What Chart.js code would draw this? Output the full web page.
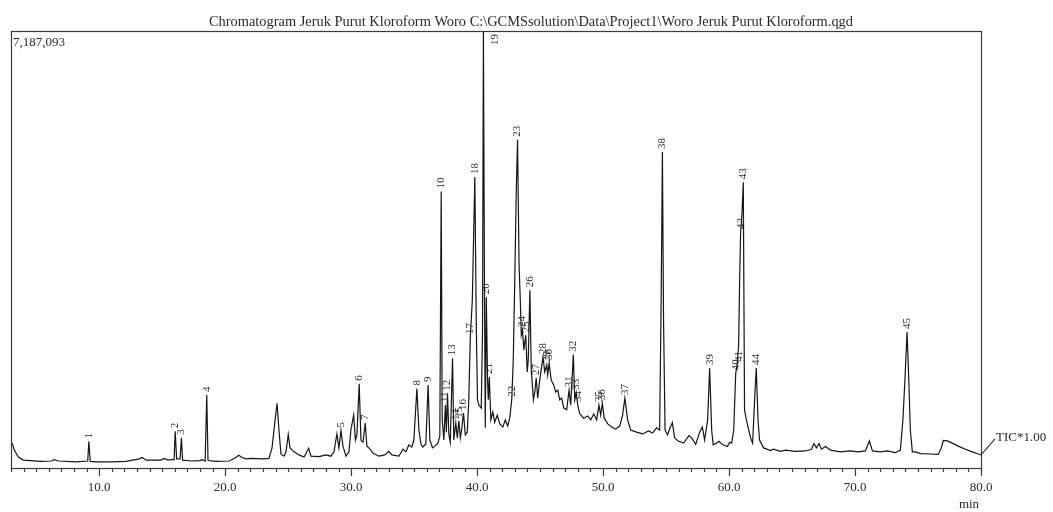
<!DOCTYPE html>
<html>
<head>
<meta charset="utf-8">
<script src="https://cdn.jsdelivr.net/npm/chart.js@4"></script>
<style>
  html, body { margin: 0; padding: 0; background: #fff; }
  canvas { display: block; }
</style>
</head>
<body>
<canvas id="tic" width="1053" height="512"></canvas>
<script>
const chartTitle = 'Chromatogram Jeruk Purut Kloroform Woro C:\\GCMSsolution\\Data\\Project1\\Woro Jeruk Purut Kloroform.qgd';
const fullScale = 7187093;

// retention time (min) / intensity (% of full scale)
const retentionTime = [
  3.10, 3.26, 3.58, 3.97, 5.40, 6.19, 6.43, 6.75, 8.18, 9.09, 9.18, 9.29, 9.76, 10.95, 12.14, 13.17, 13.41, 13.73,
  14.92, 15.15, 15.47, 15.79, 15.95, 16.03, 16.15, 16.42, 16.53, 16.62, 17.30, 18.01, 18.17, 18.41, 18.54, 18.64,
  19.28, 20.31, 20.79, 21.08, 21.34, 21.66, 22.05, 23.01, 23.48, 23.72, 23.92, 24.12, 24.27, 24.43, 24.67, 24.83,
  25.01, 25.15, 25.46, 25.86, 26.26, 26.63, 26.81, 27.45, 28.00, 28.40, 28.64, 28.87, 29.03, 29.19, 29.35, 29.59,
  29.83, 29.98, 30.20, 30.34, 30.46, 30.64, 30.78, 30.94, 31.12, 31.25, 31.41, 31.73, 32.20, 32.68, 32.99, 33.23,
  33.79, 34.11, 34.35, 34.58, 34.82, 34.98, 35.22, 35.38, 35.54, 35.69, 35.93, 36.11, 36.25, 36.46, 36.65, 36.88,
  37.04, 37.15, 37.23, 37.36, 37.48, 37.56, 37.65, 37.76, 37.87, 38.05, 38.15, 38.31, 38.43, 38.55, 38.67, 38.79,
  38.92, 39.06, 39.22, 39.34, 39.46, 39.62, 39.82, 39.94, 40.03, 40.14, 40.33, 40.43, 40.50, 40.59, 40.65, 40.73,
  40.83, 40.89, 40.97, 41.09, 41.25, 41.40, 41.60, 41.80, 42.04, 42.24, 42.43, 42.59, 42.75, 42.87, 42.99, 43.11,
  43.21, 43.33, 43.43, 43.51, 43.60, 43.71, 43.86, 43.98, 44.06, 44.19, 44.30, 44.47, 44.58, 44.69, 44.81, 44.97,
  45.23, 45.37, 45.53, 45.60, 45.72, 45.88, 46.08, 46.24, 46.40, 46.56, 46.72, 46.88, 47.11, 47.30, 47.43, 47.64,
  47.75, 47.87, 47.99, 48.15, 48.46, 48.78, 49.02, 49.26, 49.49, 49.67, 49.81, 49.94, 50.09, 50.37, 50.68, 51.00,
  51.32, 51.55, 51.73, 51.95, 52.19, 52.66, 53.14, 53.61, 53.93, 54.25, 54.49, 54.61, 54.71, 54.80, 54.92, 55.12,
  55.32, 55.50, 55.68, 56.00, 56.39, 56.82, 57.03, 57.35, 57.67, 57.88, 58.06, 58.30, 58.46, 58.62, 58.74, 59.02,
  59.20, 59.50, 59.87, 60.05, 60.21, 60.37, 60.53, 60.64, 60.76, 60.84, 60.92, 61.02, 61.13, 61.23, 61.35, 61.47,
  61.71, 61.87, 62.03, 62.16, 62.30, 62.42, 62.74, 63.30, 63.53, 64.09, 64.48, 65.27, 66.07, 66.54, 66.74, 66.94,
  67.14, 67.34, 67.65, 68.05, 68.84, 69.64, 70.27, 70.82, 71.14, 71.38, 72.01, 72.57, 73.20, 73.60, 73.80, 73.96,
  74.13, 74.27, 74.39, 74.55, 74.79, 75.19, 75.98, 76.61, 76.85, 77.01, 77.33, 77.72, 78.20, 78.76, 79.31, 79.79,
  80.00
];
const intensity = [
  5.7, 4.1, 2.5, 1.8, 1.5, 1.6, 1.9, 1.6, 1.4, 1.6, 6.1, 1.5, 1.4, 1.4, 1.5, 2.1, 2.4, 1.8,
  1.8, 2.2, 1.8, 1.9, 1.9, 8.4, 2.1, 2.1, 6.9, 1.8, 1.6, 1.7, 1.9, 1.6, 16.7, 1.7,
  1.5, 1.6, 2.3, 2.9, 2.4, 2.1, 2.2, 2.1, 2.2, 4.6, 9.8, 14.8, 8.7, 3.2, 2.7, 3.7,
  7.7, 4.6, 3.7, 3.0, 2.5, 4.5, 2.7, 2.6, 3.0, 2.7, 3.7, 7.8, 4.6, 8.6, 5.0, 2.7,
  3.7, 8.7, 12.1, 6.4, 7.6, 19.3, 6.4, 5.9, 10.3, 5.0, 4.6, 3.4, 2.7, 3.0, 3.8, 3.0,
  2.7, 4.3, 3.7, 5.3, 4.8, 6.4, 18.2, 8.7, 5.5, 4.8, 5.5, 19.0, 6.4, 4.6, 5.0, 5.7,
  7.3, 63.3, 11.0, 6.4, 14.4, 8.2, 17.0, 7.6, 5.9, 25.1, 6.4, 10.3, 6.9, 10.8, 6.9, 9.2,
  12.6, 7.6, 8.2, 15.6, 30.0, 38.4, 66.6, 31.6, 15.6, 14.4, 13.7, 31.6, 100, 38.4, 9.2, 39.1,
  20.1, 15.6, 20.8, 11.0, 12.8, 10.5, 12.1, 10.1, 9.4, 11.0, 9.6, 11.4, 15.6, 24.7, 43.0, 63.6,
  75.1, 46.5, 38.4, 30.4, 31.6, 27.0, 30.4, 22.0, 24.7, 40.7, 22.4, 15.6, 17.4, 20.6, 16.0, 20.1,
  25.4, 22.0, 23.6, 21.3, 24.0, 20.1, 19.0, 17.4, 17.8, 15.6, 16.0, 13.7, 13.3, 17.8, 14.4, 25.9,
  15.6, 17.2, 14.4, 12.4, 11.4, 11.9, 11.0, 12.4, 11.0, 14.4, 12.1, 14.8, 11.4, 10.1, 9.4, 8.9,
  9.6, 12.1, 16.0, 11.0, 8.7, 8.2, 7.8, 8.5, 8.0, 9.2, 8.7, 38.4, 72.3, 33.9, 8.7, 7.6,
  9.2, 10.4, 6.9, 6.1, 5.7, 7.4, 6.9, 5.4, 8.2, 9.4, 6.4, 11.0, 22.9, 8.7, 5.3, 5.7,
  6.1, 5.3, 4.9, 5.9, 5.7, 8.7, 21.7, 23.6, 28.1, 43.0, 54.0, 57.9, 65.4, 13.3, 11.4, 9.8,
  6.9, 5.7, 15.6, 22.9, 11.0, 6.4, 4.6, 4.0, 4.3, 3.8, 4.1, 3.8, 3.9, 4.3, 5.6, 4.6,
  5.6, 4.3, 4.9, 4.1, 3.7, 3.9, 3.7, 3.9, 6.2, 3.9, 3.7, 3.9, 3.5, 4.1, 11.0, 20.1,
  31.1, 20.1, 8.7, 3.7, 3.7, 3.3, 3.2, 3.1, 4.6, 6.3, 6.2, 5.7, 5.0, 4.3, 3.7, 3.2,
  3.0
];

// peak labels: number, apex time, apex height
const peakNo     = [1, 2, 3, 4, 5, 6, 7, 8, 9, 10, 11, 12, 13, 14, 15, 16, 17, 18, 19, 20, 21, 22, 23,
                    24, 25, 26, 27, 28, 29, 30, 31, 32, 33, 34, 35, 36, 37, 38, 39, 40, 41, 42, 43, 44, 45];
const peakTime   = [9.18, 16.03, 16.53, 18.54, 29.19, 30.64, 31.12, 35.22, 36.11, 37.15, 37.48, 37.65, 38.05,
                    38.31, 38.55, 38.92, 39.46, 39.82, 40.50, 40.73, 40.97, 42.75, 43.21, 43.60, 43.86, 44.19,
                    44.69, 45.23, 45.53, 45.72, 47.30, 47.64, 47.87, 48.00, 49.67, 49.94, 51.73, 54.71, 58.46,
                    60.53, 60.76, 60.92, 61.13, 62.16, 74.13];
const peakHeight = [6.1, 8.4, 6.9, 16.7, 8.6, 19.3, 10.3, 18.2, 19.0, 63.3, 14.4, 17.0, 25.1,
                    10.3, 10.8, 12.6, 30.0, 66.6, 100, 39.1, 20.8, 15.6, 75.1, 31.6, 30.4, 40.7,
                    20.6, 25.4, 23.6, 24.0, 17.8, 25.9, 17.2, 14.4, 14.4, 14.8, 16.0, 72.3, 22.9,
                    21.7, 23.6, 54.0, 65.4, 22.9, 31.1];

const tickValues = [10, 20, 30, 40, 50, 60, 70, 80];
const tickLabels = ['10.0', '20.0', '30.0', '40.0', '50.0', '60.0', '70.0', '80.0'];
const timeMin = 3.0, timeMax = 80.0;

const serif = '"Liberation Serif", "DejaVu Serif", serif';

const decorPlugin = {
  id: 'decor',
  afterDraw(chart) {
    const ctx = chart.ctx;
    const a = chart.chartArea;
    const xs = chart.scales.x, ys = chart.scales.y;
    ctx.save();

    // frame
    ctx.strokeStyle = '#3a3a3a';
    ctx.lineWidth = 1.2;
    ctx.strokeRect(a.left + 0.5, a.top + 0.5, a.right - a.left, a.bottom - a.top);

    // time ticks, every minute, longer at the labelled ones
    ctx.beginPath();
    for (let t = Math.ceil(timeMin); t <= timeMax; t++) {
      const px = Math.round(xs.getPixelForValue(t)) + 0.5;
      const len = tickValues.includes(t) ? 8 : 4;
      ctx.moveTo(px, a.bottom);
      ctx.lineTo(px, a.bottom + len);
    }
    ctx.stroke();

    ctx.fillStyle = '#2a2a2a';
    ctx.font = '13px ' + serif;
    ctx.textAlign = 'center';
    ctx.textBaseline = 'middle';
    tickValues.forEach((v, i) => {
      ctx.fillText(tickLabels[i], xs.getPixelForValue(v), a.bottom + 20);
    });
    ctx.fillText('min', xs.getPixelForValue(timeMax) - 12, a.bottom + 37);

    // title + full scale
    ctx.font = '14.4px ' + serif;
    ctx.fillText(chartTitle, 531, a.top - 9);
    ctx.textAlign = 'left';
    ctx.font = '13px ' + serif;
    ctx.fillText(fullScale.toLocaleString('en-US'), a.left + 2, a.top + 12);

    // TIC tag
    const lastX = xs.getPixelForValue(retentionTime[retentionTime.length - 1]);
    const lastY = ys.getPixelForValue(intensity[intensity.length - 1]);
    ctx.beginPath();
    ctx.moveTo(lastX, lastY);
    ctx.lineTo(lastX + 14, lastY - 16);
    ctx.stroke();
    ctx.fillText('TIC*1.00', lastX + 15, lastY - 17);

    // peak numbers, rotated
    ctx.font = '11px ' + serif;
    ctx.textBaseline = 'middle';
    peakNo.forEach((n, i) => {
      let px = xs.getPixelForValue(peakTime[i]);
      let py = ys.getPixelForValue(peakHeight[i]) - 3;
      const w = ctx.measureText(String(n)).width;
      if (py - w < a.top + 2) {
        px += 12;
        py = a.top + 3 + w;
      }
      ctx.save();
      ctx.translate(px, py);
      ctx.rotate(-Math.PI / 2);
      ctx.textAlign = 'left';
      ctx.fillText(String(n), 0, 0);
      ctx.restore();
    });

    ctx.restore();
  }
};

new Chart(document.getElementById('tic'), {
  type: 'line',
  data: {
    datasets: [{
      data: retentionTime.map((t, i) => ({ x: t, y: intensity[i] })),
      borderColor: '#151515',
      borderWidth: 1.2,
      pointRadius: 0,
      tension: 0,
      fill: false
    }]
  },
  options: {
    responsive: false,
    animation: false,
    devicePixelRatio: 1,
    layout: { padding: { left: 11, right: 72, top: 31, bottom: 44 } },
    scales: {
      x: { type: 'linear', min: timeMin, max: timeMax, display: false },
      y: { min: 0, max: 100, display: false }
    },
    plugins: { legend: { display: false }, tooltip: { enabled: false } }
  },
  plugins: [decorPlugin]
});
</script>
</body>
</html>
